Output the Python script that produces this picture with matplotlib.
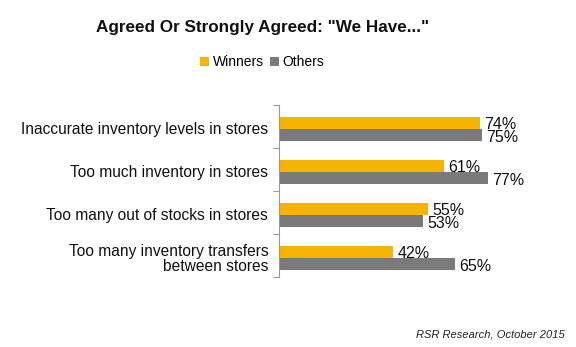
import numpy as np
import matplotlib.pyplot as plt

plt.rcParams['font.family'] = ['Liberation Sans', 'DejaVu Sans']

# datos
categorias = ["Inaccurate inventory levels in stores",
              "Too much inventory in stores",
              "Too many out of stocks in stores",
              "Too many inventory transfers\nbetween stores"]
winners = [74, 61, 55, 42]
others = [75, 77, 53, 65]

amarillo = "#F4B400"
gris = "#7A7A7A"

fig = plt.figure(figsize=(5.76, 3.47), dpi=100)
ax = fig.add_axes([0.4844, 0.2017, 0.4705, 0.4957])

y = np.arange(len(categorias)) + 0.55
h = 0.28
ax.barh(y - h / 2, winners, height=h, color=amarillo, label="Winners")
ax.barh(y + h / 2, others, height=h, color=gris, label="Others")

for yi, v in zip(y - h / 2, winners):
    ax.text(v + 1.6, yi + 0.04, f"{v}%", va="center", ha="left", fontsize=11.5, color="#111111")
for yi, v in zip(y + h / 2, others):
    ax.text(v + 1.6, yi + 0.06, f"{v}%", va="center", ha="left", fontsize=11.5, color="#111111")

ax.set_xlim(0, 100)
ax.set_ylim(len(categorias), 0)
ax.set_xticks([])
ax.set_yticks(np.arange(len(categorias) + 1))
ax.set_yticklabels([])
ax.tick_params(axis="y", direction="out", length=4, color="#999999", width=0.8)
for s in ["top", "right", "bottom"]:
    ax.spines[s].set_visible(False)
ax.spines["left"].set_color("#999999")
ax.spines["left"].set_linewidth(0.8)

# etiquetas de categorias, alineadas a la derecha
for yi, c in zip(np.arange(len(categorias)) + 0.58, categorias):
    ax.text(-4, yi, c, ha="right", va="center", fontsize=11.2, color="#111111",
            multialignment="right", linespacing=1.05)

fig.text(0.455, 0.92, 'Agreed Or Strongly Agreed: "We Have..."', ha="center", va="center",
         fontsize=12.3, fontweight="bold", color="#111111")

fig.legend(loc="center", bbox_to_anchor=(0.455, 0.82), ncol=2, frameon=False,
           fontsize=10, handlelength=0.7, handleheight=0.7, handletextpad=0.25,
           columnspacing=0.4)

fig.text(0.98, 0.035, "RSR Research, October 2015", ha="right", va="center",
         fontsize=8, style="italic", color="#222222")

fig.savefig("out.png", dpi=100)
